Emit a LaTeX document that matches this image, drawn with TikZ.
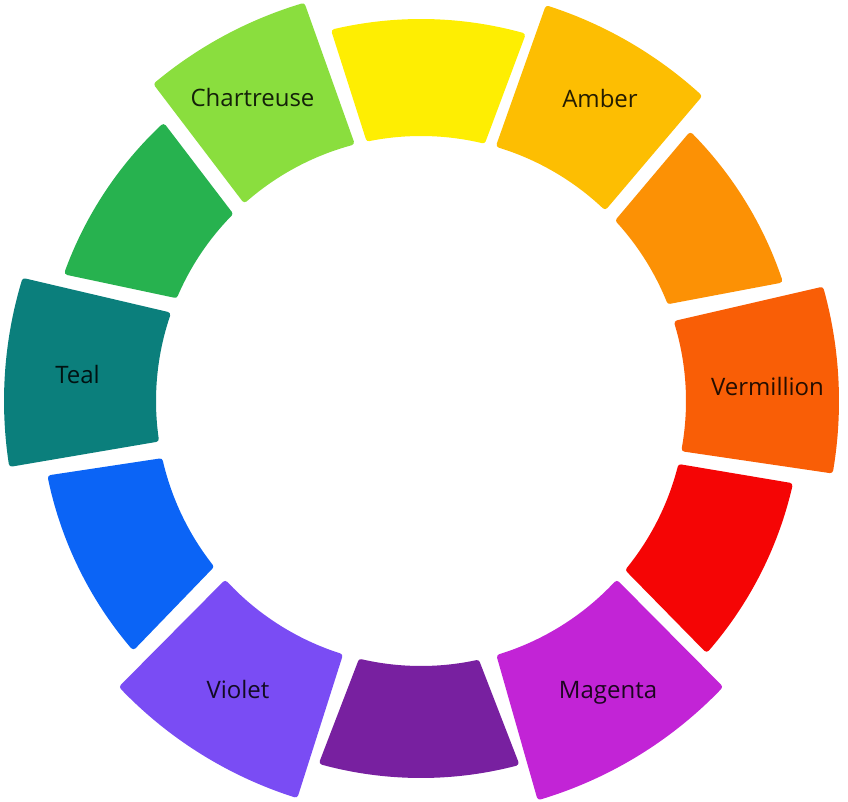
\documentclass[tikz,border=0pt]{standalone}
\usepackage{fontspec}
\setmainfont{Open Sans}
\usetikzlibrary{calc}
\definecolor{cVerm}{HTML}{F95E06}
\definecolor{cOrange}{HTML}{FC9105}
\definecolor{cAmber}{HTML}{FDBE02}
\definecolor{cYellow}{HTML}{FEEE02}
\definecolor{cChart}{HTML}{8ADE3E}
\definecolor{cGreen}{HTML}{27B24F}
\definecolor{cTeal}{HTML}{0B7F7C}
\definecolor{cBlue}{HTML}{0B64F6}
\definecolor{cViolet}{HTML}{7A4CF4}
\definecolor{cPurple}{HTML}{7820A0}
\definecolor{cMagenta}{HTML}{C224D6}
\definecolor{cRed}{HTML}{F50505}
\newcommand{\wheelseg}[7]{% colour, r inner, r outer, inner a1, inner a2, outer a1, outer a2
  \pgfmathsetmacro\wsRi{#2+3}%
  \pgfmathsetmacro\wsRo{#3-3}%
  \pgfmathsetmacro\wsIa{#4+171.887/#2}%
  \pgfmathsetmacro\wsIb{#5-171.887/#2}%
  \pgfmathsetmacro\wsOa{#6+171.887/#3}%
  \pgfmathsetmacro\wsOb{#7-171.887/#3}%
  \path[segbox, fill=#1, draw=#1]
    ($(C)+(\wsIa:\wsRi pt)$) -- ($(C)+(\wsOa:\wsRo pt)$)
    arc[start angle=\wsOa, end angle=\wsOb, radius=\wsRo pt]
    -- ($(C)+(\wsIb:\wsRi pt)$)
    arc[start angle=\wsIb, end angle=\wsIa, radius=\wsRi pt] -- cycle;
}
\begin{document}
\begin{tikzpicture}[x=1pt,y=1pt,
  segbox/.style={line width=6pt, line join=round},
  lbl/.style={anchor=base, inner sep=0pt, text=black, text opacity=0.85,
    font=\fontsize{24}{28}\selectfont}]
\useasboundingbox (0,0) rectangle (848,801);
\coordinate (C) at (421,400);
\wheelseg{cVerm}{265}{418}{-10.9}{17.5}{-10}{15.9}
\wheelseg{cOrange}{265}{381}{21.3}{43}{18.2}{45}
\wheelseg{cAmber}{265}{415}{46}{73.6}{47.3}{72.5}
\wheelseg{cYellow}{265}{382}{76}{101.9}{74.1}{103.6}
\wheelseg{cChart}{265}{415}{104.5}{131.8}{106.3}{130.2}
\wheelseg{cGreen}{265}{379}{135}{157.3}{132.8}{160.4}
\wheelseg{cTeal}{265}{417}{160.6}{188.8}{162.8}{189.1}
\wheelseg{cBlue}{265}{381}{192.4}{218.8}{191.3}{220.9}
\wheelseg{cViolet}{265}{416}{222.4}{252.9}{223.4}{252.7}
\wheelseg{cPurple}{265}{377}{256.4}{282.7}{254.3}{285.1}
\wheelseg{cMagenta}{265}{416}{286.5}{317.6}{286.3}{316.6}
\wheelseg{cRed}{265}{381}{320.3}{346.3}{318.6}{347.5}
\node[lbl] (chartreuse) at (252.5,694) {Chartreuse};
\node[lbl] (amber) at (600,693) {Amber};
\node[lbl] (vermillion) at (767.5,405) {Vermillion};
\node[lbl] (magenta) at (608,103) {Magenta};
\node[lbl] (violet) at (238,103) {Violet};
\node[lbl] (teal) at (77.5,417) {Teal};
\end{tikzpicture}
\end{document}
